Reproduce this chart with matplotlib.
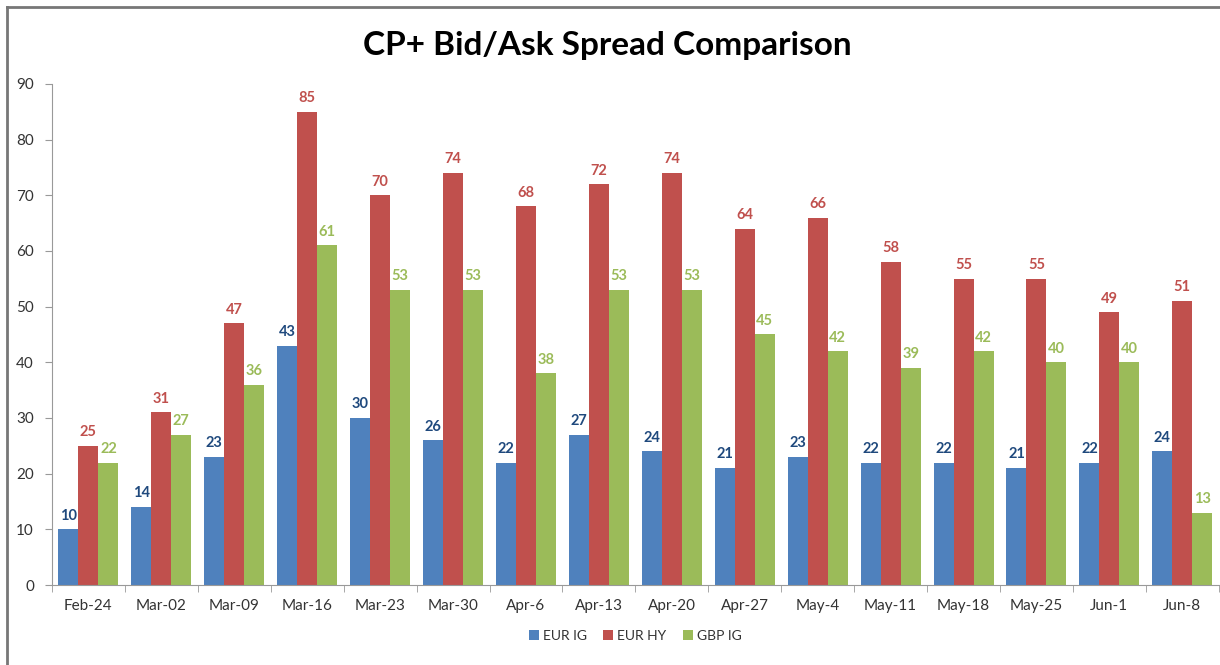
import numpy as np
import matplotlib.pyplot as plt
from matplotlib.lines import Line2D

plt.rcParams['font.family'] = ['Lato', 'DejaVu Sans']

weeks = ["Feb-24", "Mar-02", "Mar-09", "Mar-16", "Mar-23", "Mar-30", "Apr-6", "Apr-13",
         "Apr-20", "Apr-27", "May-4", "May-11", "May-18", "May-25", "Jun-1", "Jun-8"]
eur_ig = [10, 14, 23, 43, 30, 26, 22, 27, 24, 21, 23, 22, 22, 21, 22, 24]
eur_hy = [25, 31, 47, 85, 70, 74, 68, 72, 74, 64, 66, 58, 55, 55, 49, 51]
gbp_ig = [22, 27, 36, 61, 53, 53, 38, 53, 53, 45, 42, 39, 42, 40, 40, 13]

series = [
    ("EUR IG", eur_ig, "#4F81BD", "#1F497D"),
    ("EUR HY", eur_hy, "#C0504D", "#C0504D"),
    ("GBP IG", gbp_ig, "#9BBB59", "#9BBB59"),
]

fig = plt.figure(figsize=(12.2, 6.65), dpi=100)
ax = fig.add_axes([0.0426, 0.1203, 0.9564, 0.7534])

x = np.arange(len(weeks))
width = 0.274
for i, (name, vals, color, lcolor) in enumerate(series):
    pos = x + (i - 1) * width
    ax.bar(pos, vals, width, color=color, label=name, zorder=2)
    for px, v in zip(pos, vals):
        ax.text(px, v + 1.2, str(v), ha='center', va='bottom', fontsize=10.5,
                fontweight='bold', color=lcolor)

ax.set_xlim(-0.5, len(weeks) - 0.5)
ax.set_ylim(0, 90)
ax.set_yticks(np.arange(0, 91, 10))
ax.set_xticks(x)
ax.set_xticklabels(weeks)
ax.set_xticks(np.arange(-0.5, len(weeks), 1), minor=True)
ax.tick_params(axis='x', which='major', length=0, pad=10, labelsize=11, labelcolor='#333333')
ax.tick_params(axis='x', which='minor', length=5, color='#999999')
ax.tick_params(axis='y', length=5, color='#999999', labelsize=11, labelcolor='#333333', pad=8)

for s in ['top', 'right']:
    ax.spines[s].set_visible(False)
for s in ['left', 'bottom']:
    ax.spines[s].set_color('#999999')

fig.text(0.498, 0.932, "CP+ Bid/Ask Spread Comparison", ha='center', va='center',
         fontsize=24, fontweight='bold', color='black')

ax.legend(loc='center', bbox_to_anchor=(0.5, -0.102), ncol=3, frameon=False,
          fontsize=10, handlelength=0.7, handleheight=0.7, handletextpad=0.3,
          columnspacing=1.2, labelcolor='#333333')

# chart frame
fig.add_artist(Line2D([7 / 1220, 7 / 1220], [0, 1 - 7 / 665], transform=fig.transFigure,
                      color='#777777', lw=2))
fig.add_artist(Line2D([7 / 1220, 1], [1 - 7 / 665, 1 - 7 / 665], transform=fig.transFigure,
                      color='#777777', lw=2))

fig.savefig("out.png", dpi=100)
